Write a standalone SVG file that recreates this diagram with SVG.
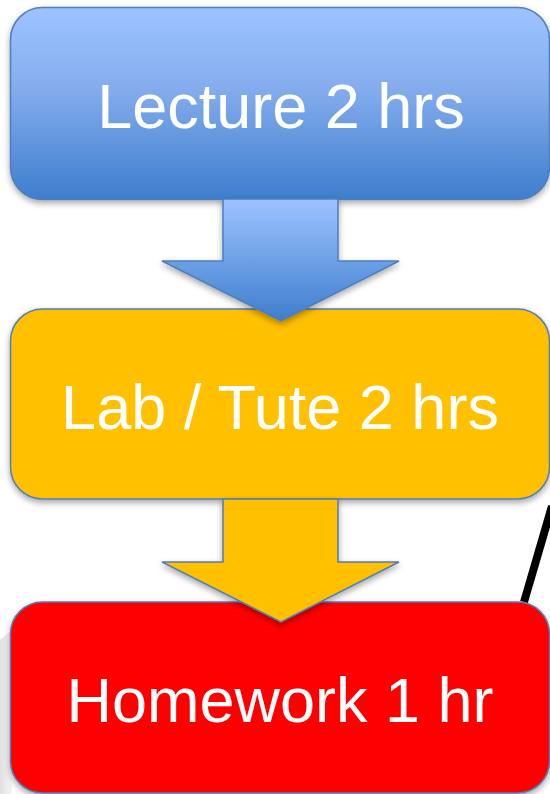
<svg xmlns="http://www.w3.org/2000/svg" width="550" height="794" viewBox="0 0 550 794">
<defs>
<linearGradient id="gBlue" x1="0" y1="0" x2="0" y2="1">
<stop offset="0" stop-color="#9DC3FF"/>
<stop offset="0.4" stop-color="#86AEEE"/>
<stop offset="1" stop-color="#3E7ECD"/>
</linearGradient>
<linearGradient id="gArrow" x1="0" y1="0" x2="0" y2="1">
<stop offset="0" stop-color="#9DC3FF"/>
<stop offset="1" stop-color="#3E7ECD"/>
</linearGradient>
<linearGradient id="gGray" x1="0" y1="0" x2="1" y2="0">
<stop offset="0" stop-color="#D8D8D8"/>
<stop offset="1" stop-color="#F4F4F4"/>
</linearGradient>
<filter id="sh" x="-5%" y="-5%" width="110%" height="115%">
<feDropShadow dx="0" dy="3" stdDeviation="3" flood-color="#000" flood-opacity="0.35"/>
</filter>
</defs>
<style>
.box{stroke:#4F7EBD;stroke-width:1.5;filter:url(#sh)}
.arrow{stroke:#4F7EBD;stroke-width:1.5;filter:url(#sh)}
.label{font-family:"Liberation Sans",Arial,sans-serif;font-size:63px;fill:#FFFFFF;text-anchor:middle}
</style>
<rect width="550" height="794" fill="#FFFFFF"/>
<path d="M0 640 L12 630 L12 794 L0 794 Z" fill="url(#gGray)" opacity="0.8"/>
<line x1="552" y1="506" x2="524" y2="602" stroke="#000000" stroke-width="8"/>
<g id="lecture">
<rect class="box" x="10.5" y="7.5" width="539" height="192" rx="32" fill="url(#gBlue)"/>
<text class="label" x="281" y="128">Lecture 2 hrs</text>
</g>
<g id="lab">
<rect class="box" x="10.5" y="309" width="539" height="190" rx="32" fill="#FFC000"/>
<text class="label" x="280" y="429">Lab / Tute 2 hrs</text>
</g>
<g id="homework">
<rect class="box" x="10.5" y="602" width="539" height="191" rx="32" fill="#FF0000"/>
<text class="label" x="280" y="722">Homework 1 hr</text>
</g>
<g id="connectors">
<path id="arrow1" class="arrow" fill="url(#gArrow)" d="M223 199 L338 199 L338 261 L399 261 L281 321 L162 261 L223 261 Z"/>
<path id="arrow2" class="arrow" fill="#FFC000" d="M223 499 L338 499 L338 562 L399 562 L281 622 L162 562 L223 562 Z"/>
</g>
</svg>
